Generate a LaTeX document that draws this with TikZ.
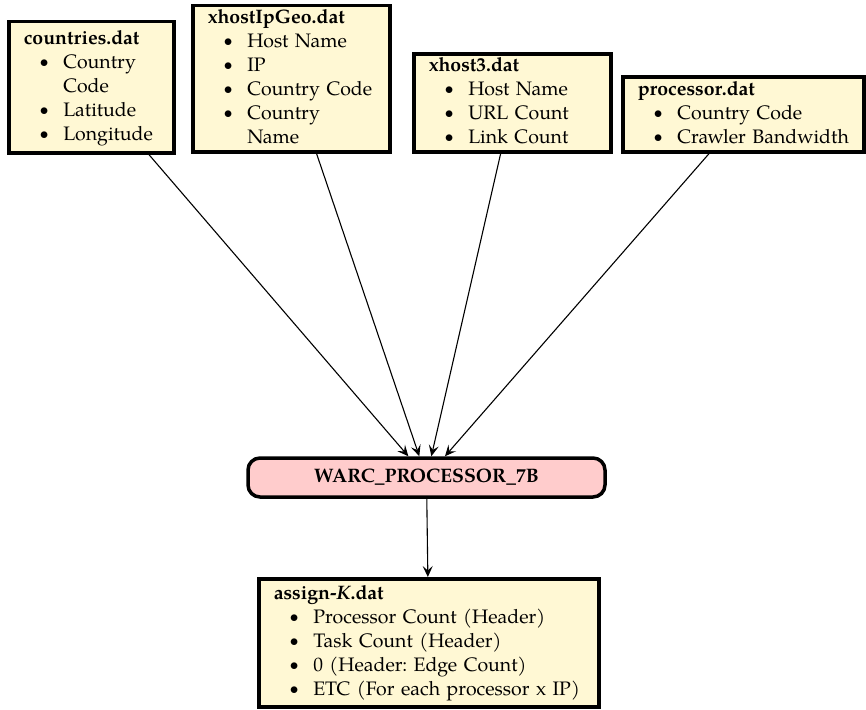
\documentclass[tikz,border=0pt]{standalone}
\usepackage{fontspec}
\setmainfont{TeX Gyre Pagella}
\usetikzlibrary{arrows.meta}
\definecolor{cream}{RGB}{255,248,212}
\definecolor{pinkfill}{RGB}{255,204,204}
\frenchspacing
\newcommand{\bulletmark}{\raisebox{0.8pt}{\fontsize{16}{16}\selectfont$\bullet$}}
\newcommand{\itm}[1]{\strut\hspace*{16pt}\makebox[23.5pt][l]{\bulletmark}\mbox{#1}}
\newcommand{\cont}[1]{\strut\hspace*{39.5pt}\mbox{#1}}
\tikzset{
  filebox/.style={draw, line width=3.5pt, fill=cream, anchor=north west,
    inner xsep=15pt, inner ysep=0pt, align=left,
    font=\fontsize{19.5}{24}\selectfont\frenchspacing},
  procbox/.style={draw, line width=3.5pt, fill=pinkfill, rounded corners=12pt,
    inner sep=0pt, font=\fontsize{19.5}{24}\selectfont\bfseries},
  flow/.style={-{Stealth[length=11pt,width=10pt,inset=4.5pt]}, line width=1.1pt}
}
\begin{document}
\begin{tikzpicture}[x=1pt,y=1pt]
\useasboundingbox (0,0) rectangle (866,-709);
\node[filebox, text width=135pt, minimum height=131pt] (countries) at (7,-20)
  {\strut\textbf{countries.dat}\\ \itm{Country}\\ \cont{Code}\\ \itm{Latitude}\\ \itm{Longitude}};
\node[filebox, text width=167pt, minimum height=146pt] (geo) at (191,-4)
  {\strut\textbf{xhostIpGeo.dat}\\ \itm{Host Name}\\ \itm{IP}\\ \itm{Country Code}\\ \itm{Country}\\ \cont{Name}};
\node[filebox, text width=167pt, minimum height=98pt] (xhost) at (412,-52)
  {\strut\textbf{xhost3.dat}\\ \itm{Host Name}\\ \itm{URL Count}\\ \itm{Link Count}};
\node[filebox, text width=211pt, minimum height=75pt] (proc) at (621,-75)
  {\strut\textbf{processor.dat}\\ \itm{Country Code}\\ \itm{Crawler Bandwidth}};
\node[procbox, minimum width=357pt, minimum height=39pt] (warc) at (426.5,-477.5)
  {WARC\_PROCESSOR\_7B};
\node[filebox, text width=310pt, minimum height=128pt] (assign) at (257,-577)
  {\strut\textbf{assign-\textit{K}.dat}\\ \itm{Processor Count (Header)}\\ \itm{Task Count (Header)}\\ \itm{0 (Header: Edge Count)}\\ \itm{ETC (For each processor x IP)}};
\draw[flow] (countries) -- (warc);
\draw[flow] (geo) -- (warc);
\draw[flow] (xhost) -- (warc);
\draw[flow] (proc) -- (warc);
\draw[flow] (warc) -- (assign);
\end{tikzpicture}
\end{document}
